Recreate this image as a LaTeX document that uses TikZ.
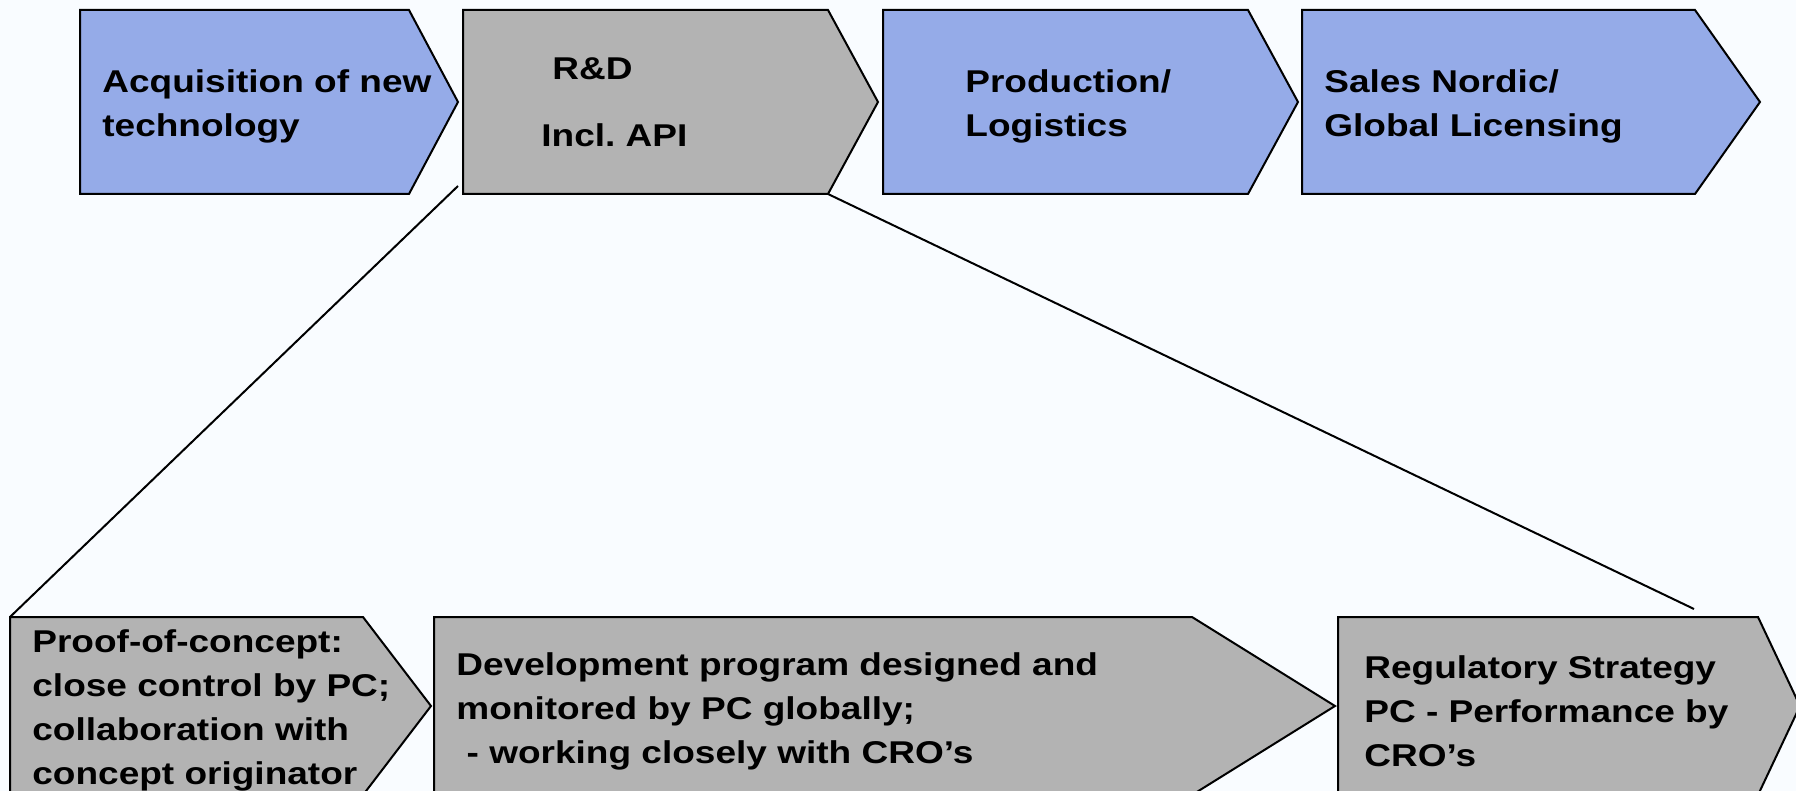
\documentclass[tikz,border=0pt]{standalone}
\usepackage{fontspec}
\setmainfont{Liberation Sans}[FakeStretch=1.175]
\definecolor{chevblue}{RGB}{149,171,232}
\definecolor{chevgray}{RGB}{179,179,179}
\definecolor{bgcol}{RGB}{249,252,255}
\begin{document}
\begin{tikzpicture}[x=0.5pt,y=-0.5pt,
  bluechev/.style={fill=chevblue,draw=black,line width=1pt,line join=miter},
  graychev/.style={fill=chevgray,draw=black,line width=1pt,line join=miter},
  lbl/.style={anchor=base west,inner sep=0pt,align=left,font=\fontsize{15.75pt}{22pt}\selectfont\bfseries},
  zoomline/.style={draw=black,line width=1pt}]
\fill[bgcol] (0,0) rectangle (1796,791);
\useasboundingbox (0,0) rectangle (1796,791);
\clip (0,0) rectangle (1796,791);

% top row chevrons
\draw[bluechev] (80,10) -- (409,10) -- (458,102) -- (409,194) -- (80,194) -- cycle;
\draw[graychev] (463,10) -- (828,10) -- (878,102) -- (828,194) coordinate (rdbr) -- (463,194) -- cycle;
\draw[bluechev] (883,10) -- (1248,10) -- (1298,102) -- (1248,194) -- (883,194) -- cycle;
\draw[bluechev] (1302,10) -- (1695,10) -- (1760,102) -- (1695,194) -- (1302,194) -- cycle;

% bottom row chevrons
\draw[graychev] (10,617) coordinate (pctl) -- (363,617) -- (431,706) -- (363,795) -- (10,795) -- cycle;
\draw[graychev] (434,617) -- (1192,617) -- (1335,706) -- (1192,795) -- (434,795) -- cycle;
\draw[graychev] (1338,617) -- (1758,617) -- (1800,706) -- (1758,795) -- (1338,795) -- cycle;

% zoom connectors
\coordinate (rdbl) at (458,186);
\coordinate (regtop) at (1694,609);
\draw[zoomline] (rdbl) -- (pctl);
\draw[zoomline] (rdbr) -- (regtop);

% labels (base = baseline of the last line)
\node[lbl] (acq) at (102,137) {Acquisition of new\\technology};
\node[lbl] (rd) at (552,80) {R\&D};
\node[lbl] (api) at (541,147) {Incl.\ API};
\node[lbl] (prod) at (965,137) {Production/\\Logistics};
\node[lbl] (sales) at (1324,137) {Sales Nordic/\\Global Licensing};

\node[lbl] (poc) at (32,784) {Proof-of-concept:\\close control by PC;\\collaboration with\\concept originator};
\node[lbl] (dev) at (456,763) {Development program designed and\\monitored by PC globally;\\~- working closely with CRO’s};
\node[lbl] (reg) at (1364,766) {Regulatory Strategy\\PC - Performance by\\CRO’s};
\end{tikzpicture}
\end{document}
